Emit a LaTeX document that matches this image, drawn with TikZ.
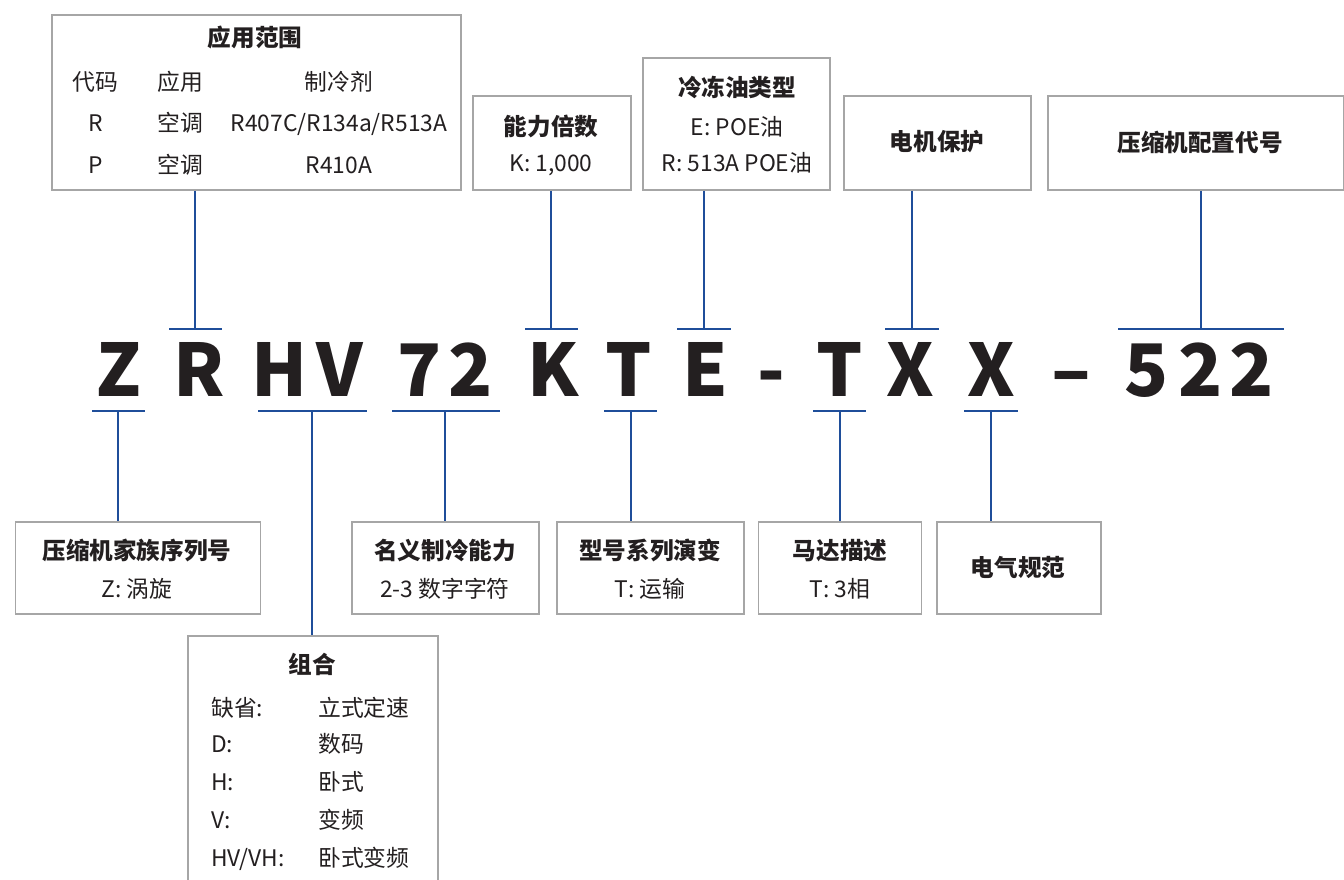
\documentclass[tikz,border=0pt]{standalone}
\usepackage{fontspec}
\setmainfont{Noto Sans CJK SC}
\definecolor{ln}{HTML}{1F4E9A}
\definecolor{bx}{HTML}{A6A6A6}
\definecolor{tx}{HTML}{231F20}
\tikzset{
  box/.style={draw=bx, line width=1.5pt, rectangle, inner sep=0pt},
  conn/.style={draw=ln, line width=2pt},
  lbl/.style={text=tx, font=\fontsize{22.8}{26}\selectfont, anchor=base, inner sep=0pt},
  ttl/.style={text=tx, font=\fontsize{23.6}{26}\selectfont\bfseries, anchor=base, inner sep=0pt},
  lbw/.style={lbl, anchor=base west},
  big/.style={text=tx, font=\fontsize{72.5}{74}\selectfont\bfseries, anchor=base, inner sep=0pt}
}
\begin{document}
\begin{tikzpicture}[x=1pt,y=-1pt]
\useasboundingbox (0,0) rectangle (1344,879);
\clip (0,0) rectangle (1344,879);
\fill[white] (0,0) rectangle (1344,879);

% top boxes
\node[box, minimum width=409pt, minimum height=175pt] (b1) at (256.5,102.5) {};
\node[box, minimum width=158pt, minimum height=94pt] (b2) at (552,143) {};
\node[box, minimum width=187pt, minimum height=132pt] (b3) at (736.5,124) {};
\node[box, minimum width=187pt, minimum height=94pt] (b4) at (937.5,143) {};
\node[box, minimum width=296pt, minimum height=94pt] (b5) at (1196,143) {};

% bottom boxes
\node[box, minimum width=245pt, minimum height=92pt] (bz) at (138,568) {};
\node[box, minimum width=187pt, minimum height=92pt] (bn) at (445.5,568) {};
\node[box, minimum width=187pt, minimum height=92pt] (bt) at (650.5,568) {};
\node[box, minimum width=163pt, minimum height=92pt] (bm) at (840,568) {};
\node[box, minimum width=164pt, minimum height=92pt] (be) at (1019,568) {};
\node[box, minimum width=250pt, minimum height=270pt] (bc) at (313,771) {};

% box 1 texts
\node[ttl] (t1) at (255,46) {应用范围};
\node[lbl] (t1a) at (95,90) {代码};
\node[lbl] (t1b) at (180,90) {应用};
\node[lbl] (t1c) at (339,90) {制冷剂};
\node[lbl] (t1d) at (96,131) {R};
\node[lbl] (t1e) at (180,131) {空调};
\node[lbl] (t1f) at (339,131) {R407C/R134a/R513A};
\node[lbl] (t1g) at (96,173) {P};
\node[lbl] (t1h) at (180,173) {空调};
\node[lbl] (t1i) at (339,173) {R410A};

% box 2
\node[ttl] (t2) at (551,135) {能力倍数};
\node[lbl] (t2a) at (551,171) {K: 1,000};
% box 3
\node[ttl] (t3) at (737,96) {冷冻油类型};
\node[lbl] (t3a) at (737,135) {E: POE油};
\node[lbl] (t3b) at (737,171) {R: 513A POE油};
% box 4, 5
\node[ttl] (t4) at (937,150) {电机保护};
\node[ttl] (t5) at (1200,151) {压缩机配置代号};

% bottom texts
\node[ttl] (tz) at (137,559) {压缩机家族序列号};
\node[lbl] (tza) at (137,597) {Z: 涡旋};
\node[ttl] (tn) at (445,559) {名义制冷能力};
\node[lbl] (tna) at (445,597) {2-3 数字字符};
\node[ttl] (tt) at (650,559) {型号系列演变};
\node[lbl] (tta) at (650,597) {T: 运输};
\node[ttl] (tm) at (840,559) {马达描述};
\node[lbl] (tma) at (840,597) {T: 3相};
\node[ttl] (te) at (1018,576) {电气规范};

% combination box
\node[ttl] (tc) at (312,673) {组合};
\node[lbw] (c1) at (211,716) {缺省:};
\node[lbw] (c1v) at (318,716) {立式定速};
\node[lbw] (c2) at (211,752) {D:};
\node[lbw] (c2v) at (318,752) {数码};
\node[lbw] (c3) at (211,790) {H:};
\node[lbw] (c3v) at (318,790) {卧式};
\node[lbw] (c4) at (211,828) {V:};
\node[lbw] (c4v) at (318,828) {变频};
\node[lbw] (c5) at (211,866) {HV/VH:};
\node[lbw] (c5v) at (318,866) {卧式变频};

% big model code
\node[big] (lZ) at (119,396) {Z};
\node[big] (lR) at (199,396) {R};
\node[big] (lH) at (280,396) {H};
\node[big] (lV) at (340,396) {V};
\node[big] (l7) at (420,396) {7};
\node[big] (l2) at (471,396) {2};
\node[big] (lK) at (553,396) {K};
\node[big] (lT) at (629,396) {T};
\node[big] (lE) at (705,396) {E};
\node[big] (ld1) at (771,396) {-};
\node[big] (lT2) at (840,396) {T};
\node[big] (lX1) at (910,396) {X};
\node[big] (lX2) at (991,396) {X};
\node[big] (ld2) at (1071,396) {–};
\node[big] (l5) at (1147,396) {5};
\node[big] (l22) at (1201,396) {2};
\node[big] (l23) at (1252,396) {2};

% top connector bars
\coordinate (aR1) at (169,329); \coordinate (aR2) at (222,329); \coordinate (aR) at (195,329);
\coordinate (aK1) at (525,329); \coordinate (aK2) at (578,329); \coordinate (aK) at (551,329);
\coordinate (aE1) at (677,329); \coordinate (aE2) at (731,329); \coordinate (aE) at (704,329);
\coordinate (aX1) at (885,329); \coordinate (aX2) at (939,329); \coordinate (aX) at (912,329);
\coordinate (aN1) at (1118,329); \coordinate (aN2) at (1284,329); \coordinate (aN) at (1201,329);
\draw[conn] (aR1) -- (aR2); \draw[conn] (b1.south -| aR) -- (aR);
\draw[conn] (aK1) -- (aK2); \draw[conn] (b2.south -| aK) -- (aK);
\draw[conn] (aE1) -- (aE2); \draw[conn] (b3.south -| aE) -- (aE);
\draw[conn] (aX1) -- (aX2); \draw[conn] (b4.south -| aX) -- (aX);
\draw[conn] (aN1) -- (aN2); \draw[conn] (b5.south -| aN) -- (aN);

% bottom connector bars
\coordinate (cZ1) at (92,411); \coordinate (cZ2) at (145,411); \coordinate (cZ) at (118,411);
\coordinate (cH1) at (258,411); \coordinate (cH2) at (367,411); \coordinate (cH) at (312,411);
\coordinate (c71) at (392,411); \coordinate (c72) at (500,411); \coordinate (c7) at (445,411);
\coordinate (cT1) at (604,411); \coordinate (cT2) at (657,411); \coordinate (cT) at (631,411);
\coordinate (cM1) at (813,411); \coordinate (cM2) at (866,411); \coordinate (cM) at (840,411);
\coordinate (cE1) at (964,411); \coordinate (cE2) at (1018,411); \coordinate (cE) at (991,411);
\draw[conn] (cZ1) -- (cZ2); \draw[conn] (cZ) -- (cZ |- bz.north);
\draw[conn] (cH1) -- (cH2); \draw[conn] (cH) -- (cH |- bc.north);
\draw[conn] (c71) -- (c72); \draw[conn] (c7) -- (c7 |- bn.north);
\draw[conn] (cT1) -- (cT2); \draw[conn] (cT) -- (cT |- bt.north);
\draw[conn] (cM1) -- (cM2); \draw[conn] (cM) -- (cM |- bm.north);
\draw[conn] (cE1) -- (cE2); \draw[conn] (cE) -- (cE |- be.north);
\end{tikzpicture}
\end{document}
